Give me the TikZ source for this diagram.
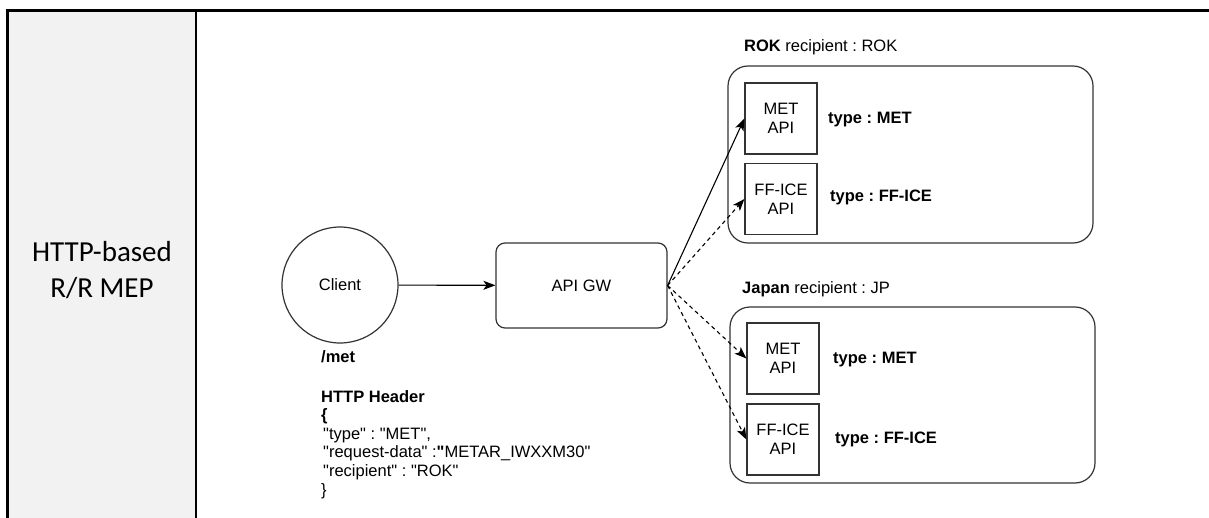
\documentclass[tikz,border=0pt]{standalone}
\usepackage{fontspec}
\setmainfont{Liberation Sans}[Ligatures=TeXOff]
\newfontfamily\cellfont{Carlito}
\usetikzlibrary{arrows.meta}
\definecolor{cellgray}{HTML}{F2F2F2}
\definecolor{linegray}{HTML}{333333}
\frenchspacing
\begin{document}
\begin{tikzpicture}[x=1pt, y=-1pt,
  every node/.style = {font=\fontsize{16.5}{18.6}\selectfont, inner sep=0pt},
  client/.style = {circle, draw=linegray, line width=1.2pt, minimum size=116pt},
  gateway/.style = {draw=linegray, line width=1.2pt, rounded corners=9pt,
    minimum width=171pt, minimum height=85pt},
  group/.style = {draw=linegray, line width=1.2pt, rounded corners=20pt,
    minimum width=365pt, minimum height=177pt},
  api/.style = {draw=linegray, line width=1.2pt, align=center,
    minimum width=72pt, minimum height=71pt},
  link/.style = {-{Stealth[length=12pt, width=9pt, inset=3pt]}, line width=1.1pt},
  maybe/.style = {link, dash pattern=on 4pt off 3.5pt}]
  \useasboundingbox (0,0) rectangle (1209,518);
  \fill[cellgray] (7,11) rectangle (196,518);
  \draw[line width=3pt] (1209,11) -- (7,11) -- (7,518);
  \draw[line width=2pt] (196,11) -- (196,518);
  \node[align=center, font=\cellfont\fontsize{29}{36}\selectfont] (mep) at (102,270)
    {HTTP-based\\R/R MEP};

  \node[client] (client) at (340,285) {Client};
  \node[gateway] (gw) at (581.5,285.5) {API GW};
  \node[anchor=west] (path) at (321,357) {\textbf{/met}};
  \node[anchor=north west, align=left] (header) at (321,390)
    {\textbf{HTTP Header}\\
     \textbf{\{}\\
     \hspace{2pt}"type" : "MET",\\
     \hspace{2pt}"request-data" :\textbf{"}METAR\_IWXXM30"\\
     \hspace{2pt}"recipient" : "ROK"\\
     \}};

  \node[group] (rok) at (910.5,154.5) {};
  \node[anchor=west] (roklabel) at (744,47) {\textbf{ROK} recipient : ROK};
  \node[api] (rokmet) at (781,118.5) {MET\\API};
  \node[api] (rokff) at (781,199) {FF-ICE\\API};
  \node[anchor=west] (roktypemet) at (828,120) {\textbf{type : MET}};
  \node[anchor=west] (roktypeff) at (830,197) {\textbf{type : FF-ICE}};

  \node[group, minimum height=176pt] (jp) at (912.5,395) {};
  \node[anchor=west] (jplabel) at (742,289) {\textbf{Japan} recipient : JP};
  \node[api] (jpmet) at (783,358.5) {MET\\API};
  \node[api] (jpff) at (783,439.5) {FF-ICE\\API};
  \node[anchor=west] (jptypemet) at (833,360) {\textbf{type : MET}};
  \node[anchor=west] (jptypeff) at (835,439) {\textbf{type : FF-ICE}};

  \draw[link] (client) -- (gw);
  \draw[link] (gw.east) -- (rokmet.west);
  \draw[maybe] (gw.east) -- (rokff.west);
  \draw[maybe] (gw.east) -- (jpmet.west);
  \draw[maybe] (gw.east) -- (jpff.west);
\end{tikzpicture}
\end{document}
